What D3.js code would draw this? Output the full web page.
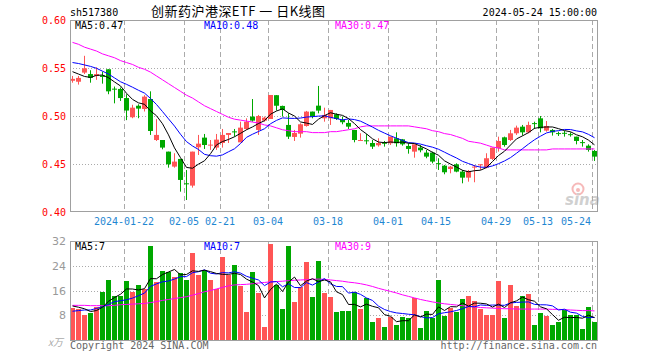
<!DOCTYPE html>
<html>
<head>
<meta charset="utf-8">
<script src="https://cdn.jsdelivr.net/npm/d3@7"></script>
<style>
  body { margin: 0; background: #fff; }
  text { font-family: "DejaVu Sans Mono", monospace; font-size: 10px; }
</style>
</head>
<body>
<svg id="chart"></svg>
<script>
// ---- data ----
const dates = ["01-09","01-10","01-11","01-12","01-15","01-16","01-17","01-18","01-19","01-22","01-23","01-24","01-25","01-26","01-29","01-30","01-31",
  "02-01","02-02","02-05","02-06","02-07","02-08","02-19","02-20","02-21","02-22","02-23","02-26","02-27","02-28","02-29",
  "03-01","03-04","03-05","03-06","03-07","03-08","03-11","03-12","03-13","03-14","03-15","03-18","03-19","03-20","03-21","03-22","03-25","03-26","03-27","03-28","03-29",
  "04-01","04-02","04-03","04-08","04-09","04-10","04-11","04-12","04-15","04-16","04-17","04-18","04-19","04-22","04-23","04-24","04-25","04-26","04-29","04-30",
  "05-06","05-07","05-08","05-09","05-10","05-13","05-14","05-15","05-16","05-17","05-20","05-21","05-22","05-23","05-24"];

const openP = [.537,.536,.5455,.544,.542,.5425,.549,.5288,.5285,.519, .499,.511,.5076,.518,.4753,.4753,.4632,.4476,.4556,.4302,
  .4278,.4677,.4778,.4695,.4674,.4722,.4806,.4843,.4729,.4868, .4997,.4858,.4955,.4972,.522,.5108,.491,.4785,.4819,.4899,
  .5049,.5111,.4979,.4979,.5021,.4962,.4931,.4858,.475,.475, .4722,.4698,.4724,.4719,.4771,.476,.4691,.4632,.4674,.4622,
  .4622,.4512,.4486,.4451,.45,.4424,.4361,.4474,.4498,.4465, .4556,.4667,.4781,.4753,.4823,.4892,.4833,.4929,.4979,.4851,
  .4858,.4825,.4828,.4814,.4788,.4731,.4694,.4639];
const highP = [.542,.542,.563,.548,.551,.5465,.549,.531,.530,.523, .512,.5125,.522,.526,.497,.4753,.4632,.4615,.4556,.444,
  .4632,.4806,.4816,.4753,.4816,.4868,.4826,.4868,.4944,.4979, .518,.5014,.4997,.5222,.522,.5111,.5031,.4858,.4927,.5056,
  .5049,.5316,.509,.5066,.5031,.4997,.4962,.4858,.4823,.4816, .4753,.4771,.4743,.4788,.4833,.4764,.4719,.4708,.4701,.4649,
  .4632,.4563,.4493,.4483,.451,.4441,.4441,.4493,.45,.4615, .4674,.4788,.4788,.4858,.4903,.491,.4944,.4944,.5003,.4951,
  .4868,.484,.4847,.4833,.4788,.4753,.4708,.4649];
const lowP = [.535,.533,.544,.535,.538,.534,.523,.5135,.516,.496, .498,.498,.505,.4806,.4743,.4656,.4465,.4465,.4215,.4128,
  .4257,.4597,.466,.465,.465,.4674,.4722,.4788,.4729,.4858, .4944,.4806,.4944,.4972,.506,.4997,.4764,.4743,.4778,.4892,
  .4979,.5031,.4944,.491,.4962,.4917,.4868,.4729,.4743,.4708, .466,.4684,.4684,.4701,.4684,.4694,.4611,.4569,.4625,.4563,
  .451,.4441,.4396,.4406,.4417,.4302,.4319,.4313,.4441,.4458, .4545,.4632,.4684,.4743,.4806,.4799,.4823,.4868,.4833,.484,
  .4799,.4795,.4788,.4788,.4708,.4684,.4632,.4535];
const closeP = [.539,.540,.550,.540,.544,.541,.526,.528,.519,.506, .509,.508,.5205,.4847,.4806,.4674,.450,.4528,.4337,.4298,
  .4632,.4715,.4701,.4705,.4757,.4806,.4826,.484,.4882,.4944, .4955,.5003,.4986,.5222,.511,.5066,.4788,.4826,.4917,.5049,
  .4997,.5059,.5014,.5066,.4972,.4938,.4892,.4753,.4753,.4747, .4684,.4722,.4722,.4788,.4719,.4708,.466,.4708,.4646,.458,
  .4528,.451,.4417,.4476,.4424,.4361,.4431,.4476,.45,.4563, .4674,.4743,.4701,.4823,.4882,.4833,.491,.4927,.4875,.4899,
  .4833,.4823,.4826,.4812,.4743,.4729,.4649,.458];
// volume, in 10k lots
const volume = [10.2,9.9,8.1,8.8,10.6,15.6,19.4,14.2,14.2,19.1, 15.5,17.8,16.4,30.5,18.8,22.3,21.9,20.5,21.8,19.4,
  28.2,21.0,22.5,19.4,16.4,26.8,21.0,24.2,17.4,9.0, 22.1,15.2,4.3,31.0,17.8,10.1,30.4,12.4,17.0,25.3,
  14.0,25.5,15.2,14.0,9.2,9.5,9.5,15.4,9.9,13.7, 5.9,7.2,4.3,7.3,4.9,7.5,7.2,13.6,4.0,9.5,
  7.0,19.4,7.8,10.2,9.2,13.2,14.3,12.7,10.0,8.1, 8.1,19.1,7.2,17.8,11.0,14.2,14.9,4.8,8.7,7.8,
  4.8,5.8,9.7,8.1,8.1,3.5,10.7,5.8];

const ma30P = [.577,.575,.572,.570,.568,.565,.563,.561,.558,.556, .554,.551,.549,.546,.542,.538,.534,.530,.526,.522,
  .519,.515,.511,.508,.505,.502,.499,.497,.496,.495, .494,.493,.491,.490,.488,.486,.485,.484,.484,.484,
  .483,.483,.483,.484,.484,.485,.486,.487,.489,.490, .490,.490,.490,.490,.490,.490,.490,.489,.488,.487,
  .485,.484,.482,.481,.479,.477,.474,.473,.472,.470, .468,.467,.465,.465,.465,.465,.465,.465,.465,.465,
  .466,.466,.466,.466,.466,.466,.466,.466];
const ma30V = [11.2,11.2,11.2,11.1,11.1,11.1,11.1,11.2,11.4,11.5, 11.6,11.7,11.8,12.1,12.4,12.8,13.1,13.4,13.7,14.0,
  14.5,15.0,15.6,16.0,16.5,17.0,17.5,17.8,17.9,18.0, 18.2,18.4,18.6,18.8,18.9,19.0,19.2,19.3,19.4,19.5,
  19.6,19.7,19.6,19.4,19.2,19.0,18.7,18.5,18.2,17.8, 17.3,16.7,16.2,15.7,15.2,14.6,14.1,13.6,13.1,12.7,
  12.3,12.0,11.7,11.5,11.3,11.1,10.9,10.7,10.5,10.4, 10.3,10.2,10.1,10.1,10.0,10.0,10.0,10.0,10.0,10.0,
  9.9,9.9,9.8,9.7,9.6,9.5,9.5,9.4];
// first MA5 / MA10 points (before enough days are on the chart)
const ma5PHead = [.5465,.544,.5415,.5405];
const ma10PHead = [.556,.555,.5535,.552,.550,.547,.544,.540,.536];
const ma5VHead = [11.0,10.6,10.1,9.2];
const ma10VHead = [9.3,9.5,9.7,9.7,10.2,10.7,11.5,12.4,12.7];

const tickDates = ["01-22","02-05","02-21","03-04","03-18","04-01","04-15","04-29","05-13","05-24"];
const tickNames = ["2024-01-22","02-05","02-21","03-04","03-18","04-01","04-15","04-29","05-13","05-24"];
const priceTicks = [0.40, 0.45, 0.50, 0.55, 0.60];
const volTicks = [8, 16, 24, 32];

// ---- layout ----
const width = 660, height = 360;
const left = 70, right = 598;
const main = { top: 20, bottom: 211 };
const vol = { top: 241, bottom: 340 };
const RED = "#ff5555", GREEN = "#00a800", FRAME = "#a0a0a0";

const svg = d3.select("#chart").attr("width", width).attr("height", height);

const x = d3.scaleBand().domain(dates).range([left, right]).paddingInner(0).paddingOuter(0);
const yP = d3.scaleLinear().domain([0.40, 0.60]).range([212.3, 20.3]);
const yV = d3.scaleLinear().domain([0, 32]).range([340, 241]);

const movingAvg = (vals, n, head) => vals.map((v, i) => i < n - 1 ? head[i] : d3.mean(vals.slice(i - n + 1, i + 1)));
const ma5P = movingAvg(closeP, 5, ma5PHead), ma10P = movingAvg(closeP, 10, ma10PHead);
const ma5V = movingAvg(volume, 5, ma5VHead), ma10V = movingAvg(volume, 10, ma10VHead);

const up = i => closeP[i] >= openP[i];
const cx = d => x(d) + 2.5;

// ---- header ----
svg.append("text").attr("x", 70).attr("y", 16).text("sh517380");
svg.append("text").attr("x", 151).attr("y", 16)
  .attr("textLength", 174).attr("lengthAdjust", "spacing")
  .style("font-family", "'Noto Sans CJK SC', sans-serif").style("font-size", "13px")
  .text("创新药沪港深ETF 一 日K线图");
svg.append("text").attr("x", 597).attr("y", 16).attr("text-anchor", "end").text("2024-05-24 15:00:00");

// ---- grid ----
const grid = svg.append("g");
grid.selectAll(".hp").data([0.45, 0.50, 0.55]).enter().append("line")
  .attr("x1", left).attr("x2", right).attr("y1", d => Math.round(yP(d)) + 0.5).attr("y2", d => Math.round(yP(d)) + 0.5)
  .attr("stroke", "#aaa").attr("stroke-dasharray", "1,2");
grid.selectAll(".hv").data([8, 16, 24]).enter().append("line")
  .attr("x1", left).attr("x2", right).attr("y1", d => Math.round(yV(d)) + 0.5).attr("y2", d => Math.round(yV(d)) + 0.5)
  .attr("stroke", "#aaa").attr("stroke-dasharray", "1,2");
[[main.top, main.bottom], [vol.top, vol.bottom]].forEach(([t, b]) => {
  grid.selectAll(null).data(tickDates).enter().append("line")
    .attr("x1", d => x(d) + 0.5).attr("x2", d => x(d) + 0.5).attr("y1", t).attr("y2", b)
    .attr("stroke", "#aaa").attr("stroke-dasharray", "5,3");
});

// ---- logo watermark ----
const logo = svg.append("g").attr("opacity", 0.55);
logo.append("circle").attr("cx", 578).attr("cy", 189).attr("r", 5.5).attr("fill", "none").attr("stroke", "#f08080").attr("stroke-width", 2);
logo.append("circle").attr("cx", 578).attr("cy", 190).attr("r", 2).attr("fill", "#f08080");
logo.append("text").attr("x", 565).attr("y", 205).style("font-family", "'DejaVu Sans', sans-serif")
  .style("font-size", "15px").style("font-weight", "bold").style("font-style", "italic").attr("fill", "#aaa").text("sina");

// ---- candles ----
const candles = svg.append("g");
candles.selectAll("line").data(dates).enter().append("line")
  .attr("x1", d => x(d) + 2.5).attr("x2", d => x(d) + 2.5)
  .attr("y1", (d, i) => yP(highP[i])).attr("y2", (d, i) => yP(lowP[i]))
  .attr("stroke", (d, i) => up(i) ? RED : GREEN);
candles.selectAll("rect").data(dates).enter().append("rect")
  .attr("x", d => x(d)).attr("width", x.bandwidth() - 1)
  .attr("y", (d, i) => yP(Math.max(openP[i], closeP[i])))
  .attr("height", (d, i) => Math.max(1, Math.abs(yP(openP[i]) - yP(closeP[i]))))
  .attr("fill", (d, i) => up(i) ? RED : GREEN);

// ---- volume bars ----
svg.append("g").selectAll("rect").data(dates).enter().append("rect")
  .attr("x", d => x(d)).attr("width", x.bandwidth() - 1)
  .attr("y", (d, i) => yV(volume[i])).attr("height", (d, i) => yV(0) - yV(volume[i]))
  .attr("fill", (d, i) => up(i) ? RED : GREEN)
  .attr("shape-rendering", "crispEdges");

// ---- MA lines ----
const drawLine = (vals, yScale, color) => svg.append("path")
  .datum(vals).attr("fill", "none").attr("stroke", color).attr("stroke-width", 1)
  .attr("d", d3.line().x((v, i) => cx(dates[i])).y(v => yScale(v)));
drawLine(ma30P, yP, "#ff00ff"); drawLine(ma10P, yP, "#0000ff"); drawLine(ma5P, yP, "#000");
drawLine(ma30V, yV, "#ff00ff"); drawLine(ma10V, yV, "#0000ff"); drawLine(ma5V, yV, "#000");

// ---- frames ----
[[main.top, main.bottom], [vol.top, vol.bottom]].forEach(([t, b]) => {
  svg.append("rect").attr("x", left + 0.5).attr("y", t + 0.5).attr("width", 597 - left).attr("height", b - t)
    .attr("fill", "none").attr("stroke", FRAME);
});

// ---- axes ----
const yAxisP = svg.append("g").attr("transform", `translate(${left},0)`)
  .call(d3.axisLeft(yP).tickValues(priceTicks).tickFormat(d3.format(".2f")).tickSize(0).tickPadding(4));
yAxisP.select(".domain").remove();
yAxisP.selectAll("text").attr("fill", "#ff0000").style("font-family", "'DejaVu Sans Mono', monospace").style("font-size", "10px");

const yAxisV = svg.append("g").attr("transform", `translate(${left},0)`)
  .call(d3.axisLeft(yV).tickValues(volTicks).tickSize(0).tickPadding(4));
yAxisV.select(".domain").remove();
yAxisV.selectAll("text").attr("fill", "#999").style("font-family", "'DejaVu Sans', sans-serif").style("font-size", "11px");

const xAxis = svg.append("g").attr("transform", `translate(-3,${main.bottom})`)
  .call(d3.axisBottom(x).tickValues(tickDates).tickFormat((d, i) => tickNames[i]).tickSize(0).tickPadding(7));
xAxis.select(".domain").remove();
xAxis.selectAll("text").attr("fill", "#1f87d2").style("font-family", "'DejaVu Sans Mono', monospace").style("font-size", "10px");
xAxis.selectAll(".tick:last-of-type text").attr("text-anchor", "end").attr("dx", "-1px");

svg.append("text").attr("x", 63).attr("y", 346).attr("text-anchor", "end").attr("fill", "#aaa")
  .style("font-family", "'Noto Sans CJK SC', sans-serif").style("font-style", "italic").style("font-size", "10px").text("x万");

// ---- MA labels ----
const last = a => a[a.length - 1];
const maLabels = [
  { y: 29, items: [["MA5:" + last(ma5P).toFixed(2), "#000", 75], ["MA10:" + last(ma10P).toFixed(2), "#0000ff", 204], ["MA30:" + last(ma30P).toFixed(2), "#ff00ff", 335]] },
  { y: 250, items: [["MA5:" + last(ma5V).toFixed(0), "#000", 75], ["MA10:" + last(ma10V).toFixed(0), "#0000ff", 204], ["MA30:" + last(ma30V).toFixed(0), "#ff00ff", 335]] }
];
maLabels.forEach(row => row.items.forEach(([t, c, xx]) => {
  svg.append("text").attr("x", xx).attr("y", row.y).attr("fill", c).text(t);
}));

// ---- footer ----
svg.append("text").attr("x", 70).attr("y", 349).attr("fill", "#666").text("Copyright 2024 SINA.COM");
svg.append("text").attr("x", 597).attr("y", 349).attr("text-anchor", "end").attr("fill", "#666").text("http://finance.sina.com.cn");
</script>
</body>
</html>
